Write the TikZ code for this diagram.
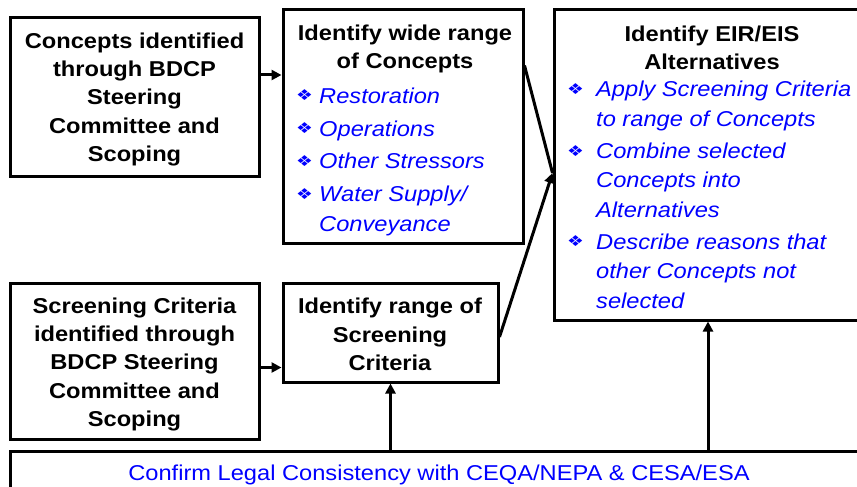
\documentclass[tikz,border=0pt]{standalone}
\usepackage{fontspec}
\setmainfont{Liberation Sans}[FakeStretch=1.1]
\newfontfamily\dejavu{DejaVu Sans}[FakeStretch=1.25]
\usetikzlibrary{arrows.meta}
\definecolor{txtblue}{RGB}{0,0,255}
\newcommand\bul{\makebox[23pt][l]{\raisebox{2.5pt}{\dejavu\fontsize{15}{15}\selectfont ❖}}}
\newcommand\bulw{\makebox[29pt][l]{\raisebox{2.5pt}{\dejavu\fontsize{15}{15}\selectfont ❖}}}
\newcommand\hng{\hspace*{23pt}}
\newcommand\hngw{\hspace*{29pt}}
\begin{document}
\begin{tikzpicture}[x=1pt,y=-1pt,
 box/.style={draw=black,line width=3pt,inner sep=0pt},
 title/.style={font=\bfseries\fontsize{21.5}{28.4}\selectfont,align=center,inner sep=0pt,anchor=base},
 blist/.style={font=\itshape\fontsize{21.5}{29.3}\selectfont,text=txtblue,align=left,inner sep=0pt,anchor=base west},
 arr/.style={line width=3pt,-{Triangle[length=10pt,width=10pt]}}]
\useasboundingbox (0,0) rectangle (857,487);
% boxes
\node[box,minimum width=249pt,minimum height=158pt] (A) at (134.5,97) {};
\node[box,minimum width=240pt,minimum height=233pt] (B) at (403,126.5) {};
\node[box,minimum width=308pt,minimum height=310pt] (C) at (708,165) {};
\node[box,minimum width=249pt,minimum height=156pt] (D) at (134.5,361) {};
\node[box,minimum width=215pt,minimum height=99pt] (E) at (390.5,332.5) {};
\node[box,minimum width=856pt,minimum height=60pt] (F) at (438,481) {};
% texts (base anchor = baseline of last line)
\node[title] (At) at (134.5,161.7) {Concepts identified\\through BDCP\\Steering\\Committee and\\Scoping};
\node[title] (Bt) at (405,68.5) {Identify wide range\\of Concepts};
\node[blist] (Bl) at (296,231) {\bul Restoration\\[3.5pt]\bul Operations\\[3.5pt]\bul Other Stressors\\[3.5pt]\bul Water Supply/\\\hng Conveyance};
\node[title] (Ct) at (712,70) {Identify EIR/EIS\\Alternatives};
\node[blist] (Cl) at (567,308) {\bulw Apply Screening Criteria\\\hngw to range of Concepts\\[3pt]\bulw Combine selected\\\hngw Concepts into\\\hngw Alternatives\\[3pt]\bulw Describe reasons that\\\hngw other Concepts not\\\hngw selected};
\node[title] (Dt) at (134.5,426.7) {Screening Criteria\\identified through\\BDCP Steering\\Committee and\\Scoping};
\node[title] (Et) at (390,370.7) {Identify range of\\Screening\\Criteria};
\node[inner sep=0pt,anchor=base,text=txtblue,font=\fontsize{21.5}{26}\selectfont] (Ft) at (439,480) {Confirm Legal Consistency with CEQA/NEPA \& CESA/ESA};
% connectors
\coordinate (cin) at (C.west |- 0,173);
\draw[arr] ([yshift=22pt]A.east) -- ([yshift=22pt]A.east -| B.west);
\draw[arr] ([yshift=-6.5pt]D.east) -- ([yshift=-6.5pt]D.east -| E.west);
\draw[line width=3pt] ([yshift=-57pt]B.north east) -- (cin);
\draw[arr] ([yshift=-4.5pt]E.east) -- (cin);
\draw[arr] (E.south |- F.north) -- (E.south);
\draw[arr] (C.south |- F.north) -- (C.south);
\end{tikzpicture}
\end{document}
